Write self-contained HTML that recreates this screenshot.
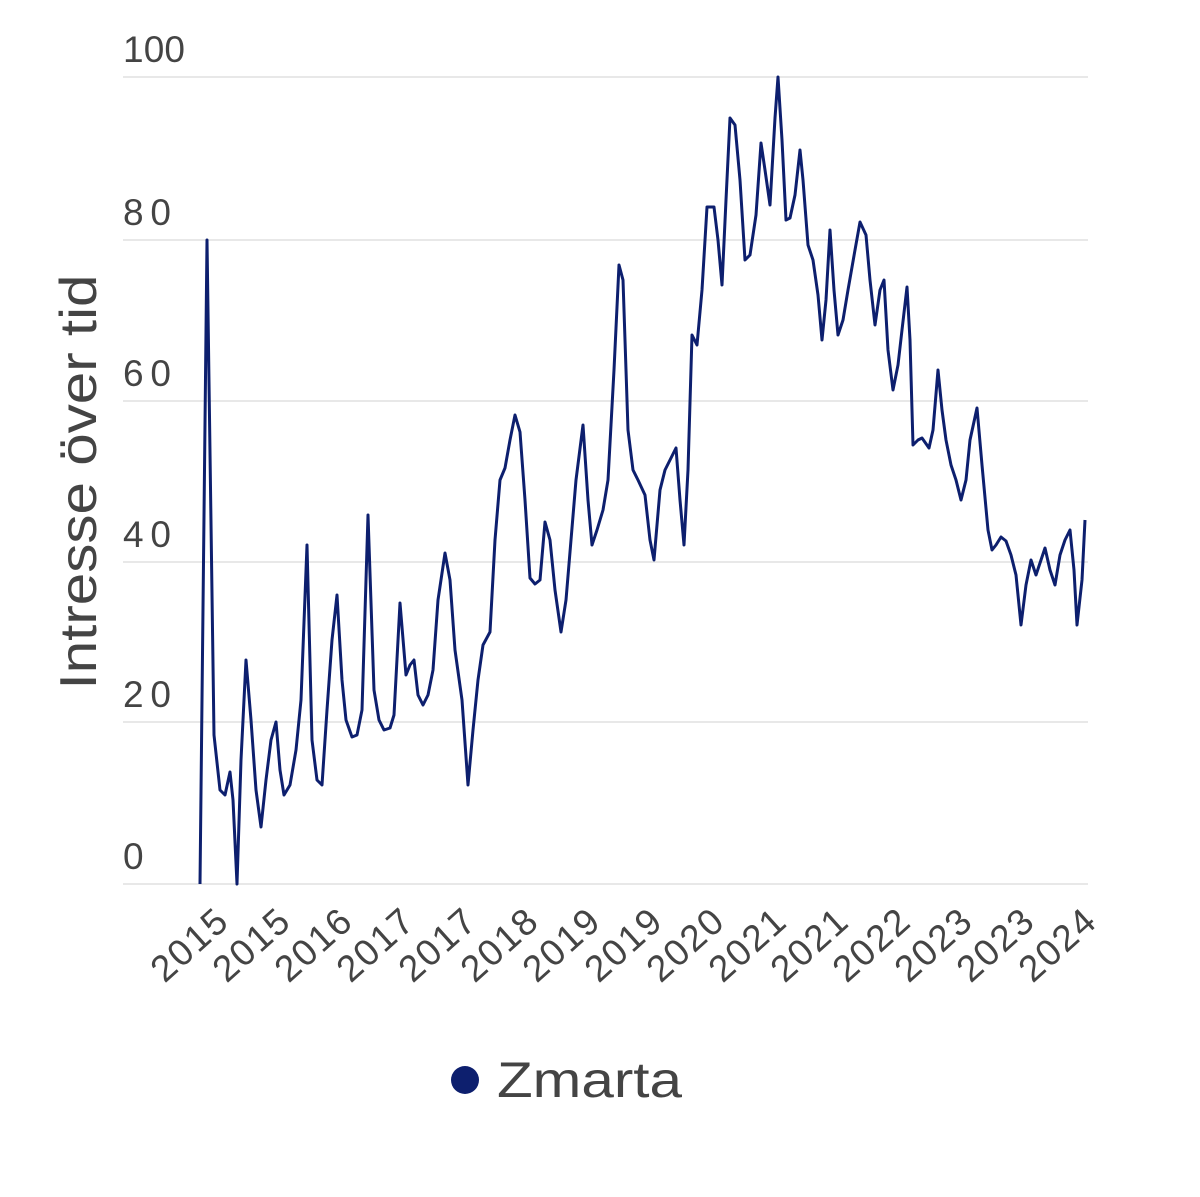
<!DOCTYPE html>
<html><head><meta charset="utf-8"><style>body{margin:0;background:#fff}svg{display:block}</style></head>
<body>
<svg width="1200" height="1197" xmlns="http://www.w3.org/2000/svg" font-family="Liberation Sans, sans-serif">
<rect width="1200" height="1197" fill="#fff"/>
<g stroke="#e0e0e0" stroke-width="1.5">
<line x1="123" y1="77" x2="1088" y2="77"/>
<line x1="123" y1="240" x2="1088" y2="240"/>
<line x1="123" y1="401" x2="1088" y2="401"/>
<line x1="123" y1="562" x2="1088" y2="562"/>
<line x1="123" y1="722" x2="1088" y2="722"/>
<line x1="123" y1="884" x2="1088" y2="884"/>
</g>
<g fill="#444" font-size="37">
<text x="123" y="62" textLength="62">100</text>
<text x="123" y="225" textLength="48">80</text>
<text x="123" y="386" textLength="48">60</text>
<text x="123" y="547" textLength="48">40</text>
<text x="123" y="707" textLength="48">20</text>
<text x="123" y="869">0</text>
</g>
<text transform="translate(96,482) rotate(-90)" text-anchor="middle" font-size="52" fill="#444" textLength="415" lengthAdjust="spacingAndGlyphs">Intresse över tid</text>
<g fill="#444" font-size="37" text-anchor="end">
<text transform="translate(230,925) rotate(-42)" textLength="88">2015</text>
<text transform="translate(292,925) rotate(-42)" textLength="88">2015</text>
<text transform="translate(354,925) rotate(-42)" textLength="88">2016</text>
<text transform="translate(416,925) rotate(-42)" textLength="88">2017</text>
<text transform="translate(478,925) rotate(-42)" textLength="88">2017</text>
<text transform="translate(540,925) rotate(-42)" textLength="88">2018</text>
<text transform="translate(602,925) rotate(-42)" textLength="88">2019</text>
<text transform="translate(664,925) rotate(-42)" textLength="88">2019</text>
<text transform="translate(726,925) rotate(-42)" textLength="88">2020</text>
<text transform="translate(788,925) rotate(-42)" textLength="88">2021</text>
<text transform="translate(850,925) rotate(-42)" textLength="88">2021</text>
<text transform="translate(912,925) rotate(-42)" textLength="88">2022</text>
<text transform="translate(974,925) rotate(-42)" textLength="88">2023</text>
<text transform="translate(1036,925) rotate(-42)" textLength="88">2023</text>
<text transform="translate(1098,925) rotate(-42)" textLength="88">2024</text>
</g>
<polyline fill="none" stroke="#0d1f6e" stroke-width="3" stroke-linejoin="round" points="200,884 207,240 214,735 220,790 225,795 230,772 233,800 237,884 241,760 246,660 251,720 256,790 261,827 266,780 271,740 276,722 280,770 284,795 290,785 296,750 301,700 307,545 312,740 317,780 322,785 327,710 332,640 337,595 342,680 346,720 352,737 357,735 362,710 368,515 374,690 379,720 384,730 390,728 394,715 400,603 406,675 410,665 414,660 418,695 423,705 428,695 433,670 438,600 445,553 450,580 455,650 462,700 468,785 473,730 478,680 483,645 490,632 495,540 500,480 505,468 510,440 515,415 520,432 525,500 530,578 535,584 540,580 545,522 550,540 555,590 561,632 566,600 571,540 576,480 583,425 588,500 592,545 597,530 603,510 608,480 614,370 619,265 623,280 628,430 633,470 638,480 645,495 650,540 654,560 660,490 665,470 670,460 676,448 680,500 684,545 688,470 692,335 697,345 702,290 707,207 714,207 718,240 722,285 726,200 730,118 735,125 740,180 745,260 750,255 756,215 761,143 765,170 770,205 775,118 778,77 782,140 786,220 790,218 795,195 800,150 803,180 808,245 813,260 818,295 822,340 826,300 830,230 834,290 838,335 843,320 848,290 855,250 860,222 866,235 870,280 875,325 880,290 884,280 888,350 893,390 898,365 902,330 907,287 910,340 913,445 918,440 922,438 929,448 933,430 938,370 942,410 946,440 951,465 956,480 961,500 966,480 970,440 977,408 982,465 988,530 992,550 996,545 1001,537 1006,541 1011,555 1016,575 1021,625 1026,585 1031,560 1036,575 1040,563 1045,548 1050,570 1055,585 1060,555 1065,540 1070,530 1074,570 1077,625 1082,580 1085,520"/>
<circle cx="465" cy="1080" r="14" fill="#0d1f6e"/>
<text x="497" y="1097" font-size="50" fill="#444" textLength="185" lengthAdjust="spacingAndGlyphs">Zmarta</text>
</svg>
</body></html>
